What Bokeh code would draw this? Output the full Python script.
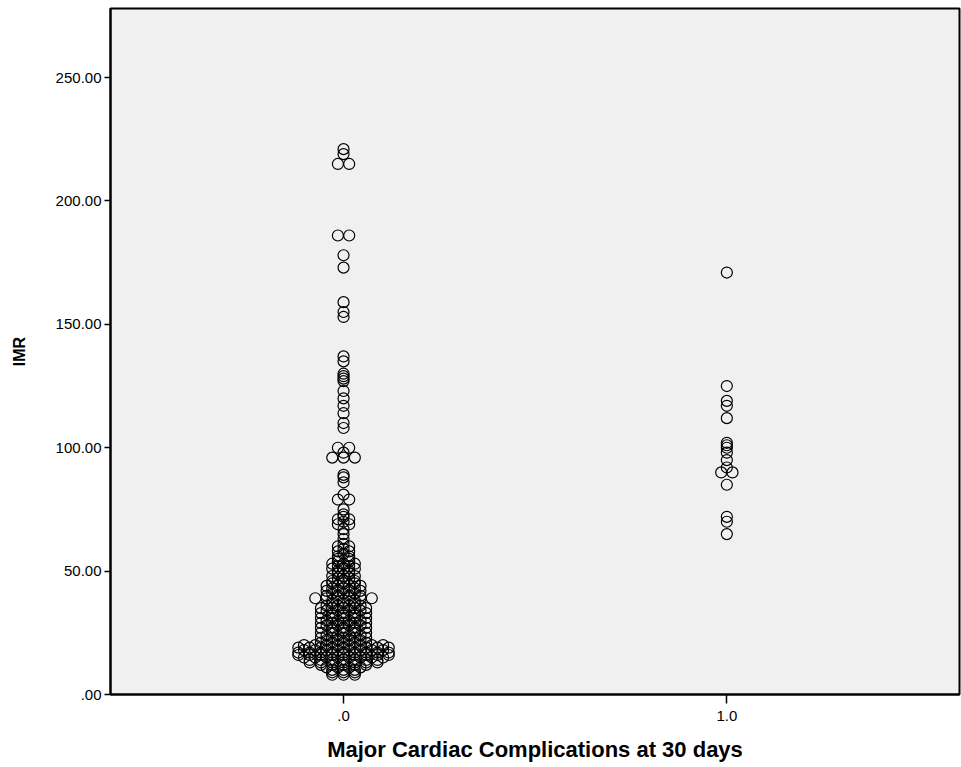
from collections import Counter
from bokeh.plotting import figure
from bokeh.models import FixedTicker, Range1d, ColumnDataSource
from bokeh.embed import file_html
from bokeh.resources import INLINE

# ---- data ----
group_codes = [0, 1]
x_tick_labels = [".0", "1.0"]
y_ticks = [0, 50, 100, 150, 200, 250]
y_tick_labels = [".00", "50.00", "100.00", "150.00", "200.00", "250.00"]

# IMR values, no major cardiac complication (value, number of patients)
imr_group0_values = [221, 219, 215, 186, 178, 173, 159, 155, 153, 137, 135, 130, 129, 128, 127,
                     123, 120, 117, 114, 110, 108, 100, 98, 96, 89, 88, 86, 81, 79, 75, 73, 72,
                     71, 70, 69, 67, 65, 63, 61, 60, 59, 58, 57, 56, 55, 54, 53, 52, 51, 50, 49,
                     48, 47, 46, 45, 44, 43, 42, 41, 40, 39, 38, 37, 36, 35, 34, 33, 32, 31, 30,
                     29, 28, 27, 26, 25, 24, 23, 22, 21, 20, 19, 18, 17, 16, 15, 14, 13, 12, 11,
                     10, 9, 8]
imr_group0_counts = [1, 1, 2, 2, 1, 1, 1, 1, 1, 1, 1, 1, 1, 1, 1,
                     1, 1, 1, 1, 1, 1, 2, 1, 3, 1, 1, 1, 1, 2, 1, 1, 1,
                     2, 1, 2, 1, 1, 1, 1, 2, 1, 2, 1, 2, 2, 2, 3, 2, 3, 2, 2,
                     3, 2, 3, 3, 4, 3, 4, 3, 4, 6, 3, 3, 4, 5, 4, 5, 3, 5, 4,
                     5, 4, 5, 3, 5, 4, 5, 4, 5, 8, 9, 8, 9, 9, 8, 7, 7, 5, 4,
                     3, 3, 3]

# IMR values, major cardiac complication at 30 days
imr_group1 = [171, 125, 119, 117, 112, 102, 101, 100, 98, 95, 92, 90, 90, 85, 72, 70, 65]

# ---- layout ----
W, H = 961, 767
BL, BR, BT, BB = 110, 2, 8, 73
x0, x1 = -0.608, 1.607
px_per_unit = (W - BL - BR) / (x1 - x0)
step = 11.3 / px_per_unit  # one marker width in data units


def dodge(values, center):
    xs, ys = [], []
    cnt = Counter(values)
    for v in sorted(cnt):
        n = cnt[v]
        for i in range(n):
            xs.append(center + (i - (n - 1) / 2) * step)
            ys.append(v)
    return xs, ys


g0 = []
for v, c in zip(imr_group0_values, imr_group0_counts):
    g0.extend([v] * c)

xa, ya = dodge(g0, group_codes[0])
xb, yb = dodge(imr_group1, group_codes[1])
src = ColumnDataSource(data=dict(x=xa + xb, y=ya + yb))

p = figure(width=W, height=H, x_range=Range1d(x0, x1), y_range=Range1d(0, 278),
           output_backend="svg", toolbar_location=None,
           min_border_left=BL, min_border_right=BR, min_border_top=BT, min_border_bottom=BB,
           background_fill_color="#F0F0F0", border_fill_color="white",
           outline_line_color="black", outline_line_width=2)

p.scatter("x", "y", source=src, marker="circle", size=11, fill_alpha=0,
          line_color="black", line_width=1.2)

p.xgrid.visible = False
p.ygrid.visible = False

p.xaxis.ticker = FixedTicker(ticks=group_codes)
p.xaxis.major_label_overrides = {k: s for k, s in zip(group_codes, x_tick_labels)}
p.yaxis.ticker = FixedTicker(ticks=y_ticks)
p.yaxis.major_label_overrides = {k: s for k, s in zip(y_ticks, y_tick_labels)}

p.xaxis.axis_label = "Major Cardiac Complications at 30 days"
p.yaxis.axis_label = "IMR"

for ax in (p.xaxis, p.yaxis):
    ax.major_label_text_font = "Liberation Sans"
    ax.major_label_text_font_size = "15px"
    ax.major_label_text_color = "black"
    ax.axis_label_text_font = "Liberation Sans"
    ax.axis_label_text_font_style = "bold"
    ax.axis_label_text_color = "black"
    ax.axis_line_color = "black"
    ax.axis_line_width = 2
    ax.major_tick_line_color = "black"
    ax.major_tick_line_width = 1.5
    ax.major_tick_in = 0
    ax.minor_tick_in = 0
    ax.minor_tick_out = 0

p.xaxis.axis_label_text_font_size = "22px"
p.yaxis.axis_label_text_font_size = "16px"
p.xaxis.major_tick_out = 9
p.yaxis.major_tick_out = 6
p.xaxis.major_label_standoff = 7
p.yaxis.major_label_standoff = 3
p.xaxis.axis_label_standoff = 13
p.yaxis.axis_label_standoff = 25

open("out.html", "w").write(file_html(p, INLINE))
